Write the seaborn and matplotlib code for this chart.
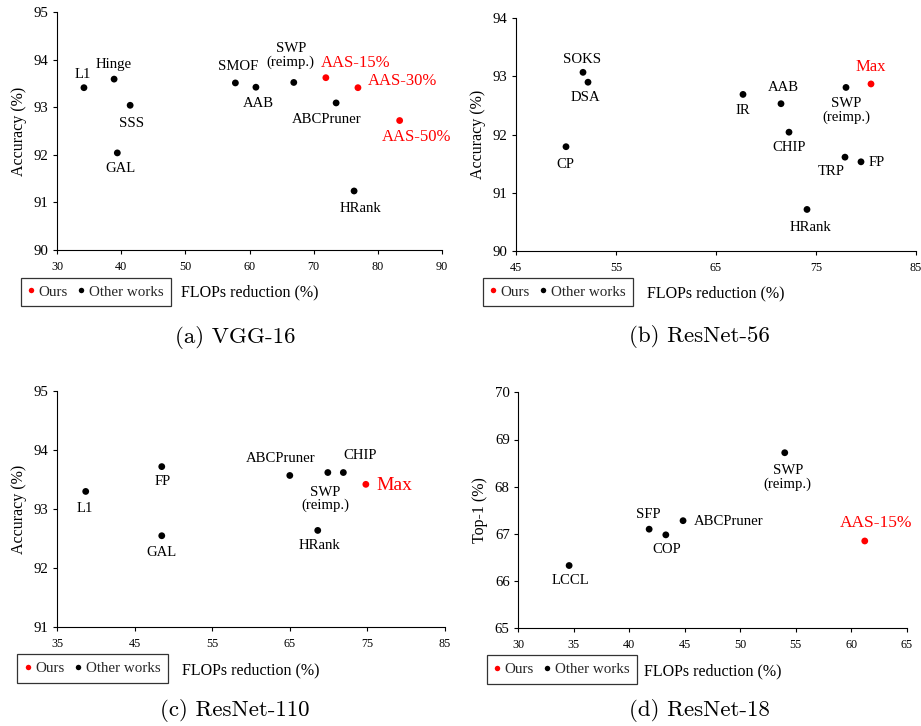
import matplotlib
matplotlib.use("Agg")
import matplotlib.pyplot as plt
import seaborn as sns
import pandas as pd

# ---------------- data ----------------
vgg_methods = ['L1', 'Hinge', 'SSS', 'GAL', 'SMOF', 'AAB', 'SWP\n(reimp.)', 'ABCPruner', 'HRank',
               'AAS-15%', 'AAS-30%', 'AAS-50%']
vgg_flops = [34.2, 38.9, 41.4, 39.4, 57.8, 61.0, 66.9, 73.5, 76.3, 71.9, 76.9, 83.4]
vgg_acc = [93.41, 93.59, 93.04, 92.04, 93.51, 93.42, 93.52, 93.09, 91.24, 93.62, 93.41, 92.72]
vgg_group = ['Other works'] * 9 + ['Ours'] * 3

r56_methods = ['SOKS', 'DSA', 'CP', 'IR', 'AAB', 'CHIP', 'SWP\n(reimp.)', 'TRP', 'FP', 'HRank', 'Max']
r56_flops = [51.7, 52.2, 50.0, 67.7, 71.5, 72.3, 78.0, 77.9, 79.5, 74.1, 80.5]
r56_acc = [93.07, 92.90, 91.79, 92.69, 92.53, 92.04, 92.81, 91.61, 91.53, 90.71, 92.87]
r56_group = ['Other works'] * 10 + ['Ours']

r110_methods = ['L1', 'FP', 'GAL', 'ABCPruner', 'SWP\n(reimp.)', 'CHIP', 'HRank', 'Max']
r110_flops = [38.7, 48.5, 48.5, 65.0, 69.9, 71.9, 68.6, 74.8]
r110_acc = [93.30, 93.72, 92.55, 93.57, 93.62, 93.62, 92.64, 93.42]
r110_group = ['Other works'] * 7 + ['Ours']

r18_methods = ['SWP\n(reimp.)', 'SFP', 'COP', 'ABCPruner', 'LCCL', 'AAS-15%']
r18_flops = [54.0, 41.8, 43.3, 44.85, 34.6, 61.2]
r18_top1 = [68.72, 67.10, 66.98, 67.28, 66.33, 66.85]
r18_group = ['Other works'] * 5 + ['Ours']

group_order = ['Ours', 'Other works']
x_label = 'FLOPs reduction (%)'

# ---------------- style ----------------
sns.set_theme(style='ticks')
plt.rcParams['font.family'] = ['Liberation Serif', 'DejaVu Serif']
plt.rcParams['axes.linewidth'] = 0.8
plt.rcParams['xtick.major.width'] = 0.8
plt.rcParams['ytick.major.width'] = 0.8
plt.rcParams['xtick.major.size'] = 3
plt.rcParams['ytick.major.size'] = 3
plt.rcParams['xtick.major.pad'] = 5
plt.rcParams['ytick.major.pad'] = 3

W, H = 921, 726
fig = plt.figure(figsize=(W / 100, H / 100), dpi=100)
fig.patch.set_facecolor('white')
palette = {'Ours': '#ff0000', 'Other works': '#000000'}


def axes_px(left, top, right, bottom):
    return fig.add_axes([left / W, 1 - bottom / H, (right - left) / W, (bottom - top) / H])


panels = [
    dict(box=(57, 12, 442, 250), methods=vgg_methods, x=vgg_flops, y=vgg_acc, g=vgg_group,
         xlim=(30, 90), xticks=range(30, 91, 10), ylim=(90, 95), yticks=range(90, 96),
         ylabel='Accuracy (%)', legend=(20.7, 277.7), xlab_y=284, caption='(a) VGG-16',
         cap=(235, 338),
         offsets={'L1': (-1, 13), 'Hinge': (0, 15), 'SSS': (1.5, -18), 'GAL': (2.7, -15.5),
                  'SMOF': (2.7, 16), 'AAB': (2.7, -16), 'SWP\n(reimp.)': (-3, 27),
                  'ABCPruner': (-9.7, -16.3), 'HRank': (6, -17.3),
                  'AAS-15%': (29.7, 15), 'AAS-30%': (44.7, 7), 'AAS-50%': (16.7, -16)},
         red_size=12),
    dict(box=(516, 18.3, 916, 250.7), methods=r56_methods, x=r56_flops, y=r56_acc, g=r56_group,
         xlim=(45, 85), xticks=range(45, 86, 10), ylim=(90, 94), yticks=range(90, 95),
         ylabel='Accuracy (%)', legend=(482.7, 277.7), xlab_y=285.5, caption='(b) ResNet-56',
         cap=(699.5, 336),
         offsets={'SOKS': (-0.7, 13), 'DSA': (-2.7, -15.7), 'CP': (-0.7, -17.3), 'IR': (0.3, -16.3),
                  'AAB': (2.3, 16), 'CHIP': (0.3, -15.3), 'SWP\n(reimp.)': (0.3, -23),
                  'TRP': (-14, -14.3), 'FP': (16, -1), 'HRank': (3, -17.7), 'Max': (0, 16.7)},
         red_size=12),
    dict(box=(57, 391, 445, 627.3), methods=r110_methods, x=r110_flops, y=r110_acc, g=r110_group,
         xlim=(35, 85), xticks=range(35, 86, 10), ylim=(91, 95), yticks=range(91, 96),
         ylabel='Accuracy (%)', legend=(17.3, 654.3), xlab_y=662, caption='(c) ResNet-110',
         cap=(235, 711),
         offsets={'L1': (-0.7, -16.7), 'FP': (0.7, -15), 'GAL': (-0.3, -16.7),
                  'ABCPruner': (-9, 16.7), 'SWP\n(reimp.)': (-2.3, -26.7), 'CHIP': (17, 17),
                  'HRank': (1.7, -15.3), 'Max': (28.3, -1.3)},
         red_size=14),
    dict(box=(518, 392.3, 907, 628.3), methods=r18_methods, x=r18_flops, y=r18_top1, g=r18_group,
         xlim=(30, 65), xticks=range(30, 66, 5), ylim=(65, 70), yticks=range(65, 71),
         ylabel='Top-1 (%)', legend=(486.7, 655), xlab_y=663.5, caption='(d) ResNet-18',
         cap=(699.5, 710),
         offsets={'SWP\n(reimp.)': (3, -24.7), 'SFP': (-0.7, 14.3), 'COP': (1.3, -14.7),
                  'ABCPruner': (46, -1), 'LCCL': (1.3, -15.3), 'AAS-15%': (11.7, 18.3)},
         red_size=12.5),
]

for p in panels:
    l, t, r, b = p['box']
    ax = axes_px(l, t, r, b)
    df = pd.DataFrame({'method': p['methods'], 'flops': p['x'], 'acc': p['y'], 'group': p['g']})
    sns.scatterplot(data=df, x='flops', y='acc', hue='group', hue_order=group_order,
                    palette=palette, s=24, linewidth=0, ax=ax, legend=True, zorder=3)
    ax.set_xlim(*p['xlim'])
    ax.set_ylim(*p['ylim'])
    ax.set_xticks(list(p['xticks']))
    ax.set_yticks(list(p['yticks']))
    ax.tick_params(axis='x', labelsize=8.7, colors='black')
    ax.tick_params(axis='y', labelsize=10.7, colors='black')
    for s in ['top', 'right']:
        ax.spines[s].set_visible(False)
    for s in ['left', 'bottom']:
        ax.spines[s].set_color('black')
    ax.set_ylabel(p['ylabel'], fontsize=11.5, color='black', labelpad=5)
    ax.set_xlabel(x_label, fontsize=11.5, color='black')
    ax.xaxis.set_label_coords(0.5, -(p['xlab_y'] - b) / (b - t))
    ax.xaxis.label.set_va('top')

    for _, row in df.iterrows():
        dx, dy = p['offsets'][row['method']]
        red = row['group'] == 'Ours'
        ax.annotate(row['method'], (row['flops'], row['acc']), xytext=(dx, dy),
                    textcoords='offset pixels', ha='center', va='center',
                    fontsize=p['red_size'] if red else 10.6,
                    color='#ff0000' if red else 'black', linespacing=1.0, zorder=4)

    handles, labels = ax.get_legend_handles_labels()
    ax.get_legend().remove()
    lx, ly = p['legend']
    leg = ax.legend(handles, labels, loc='upper left',
                    bbox_to_anchor=(lx / W, 1 - ly / H), bbox_transform=fig.transFigure,
                    ncol=2, frameon=True, fancybox=False, fontsize=10.8,
                    handlelength=0.4, handletextpad=0.3, columnspacing=0.7,
                    borderpad=0.5, borderaxespad=0, markerscale=0.8)
    leg.get_frame().set_edgecolor('black')
    leg.get_frame().set_linewidth(0.9)
    leg.get_frame().set_boxstyle('square', pad=0)

    cx, cy = p['cap']
    fig.text(cx / W, 1 - cy / H, p['caption'], ha='center', va='center',
             fontsize=16.5, family='cmr10', color='black')

fig.savefig('out.png', dpi=100, facecolor='white')
